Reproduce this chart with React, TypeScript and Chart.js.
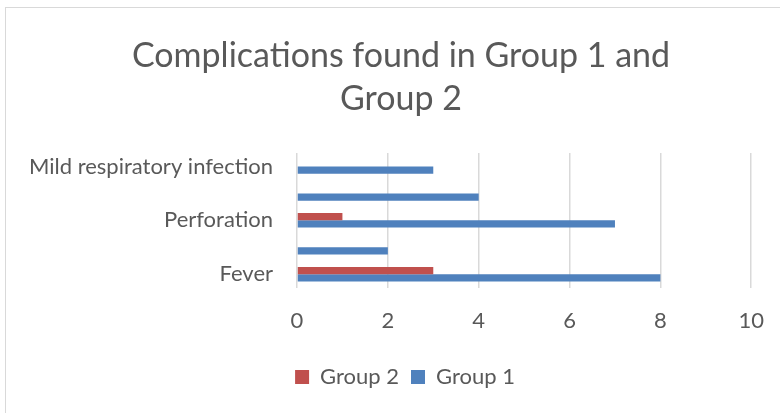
import React, { useEffect, useRef } from "react";
import { Chart, registerables } from "chart.js";

Chart.register(...registerables);

const categories = ["Fever", "", "Perforation", "", "Mild respiratory infection"];
const group1 = [8, 2, 7, 4, 3];
const group2 = [3, 0, 1, 0, 0];
const xTicks = [0, 2, 4, 6, 8, 10];

const FONT = "Lato, 'Open Sans', sans-serif";
const TEXT = "#595959";

// Excel centres title and legend on the whole chart frame, which is wider than the plot's layout box.
const shiftBlocks = {
  id: "shiftBlocks",
  afterLayout(chart: any) {
    const t = chart.titleBlock;
    if (t) {
      t.left += 12;
      t.right += 12;
    }
    const l = chart.legend;
    if (l) {
      l.left += 16;
      l.right += 16;
    }
  },
};

export default function App() {
  const ref = useRef<HTMLCanvasElement>(null);
  useEffect(() => {
    if (!ref.current) return;
    const chart = new Chart(ref.current, {
      type: "bar",
      data: {
        labels: categories,
        datasets: [
          { label: "Group 2", data: group2, backgroundColor: "#C0504D", borderWidth: 0 },
          { label: "Group 1", data: group1, backgroundColor: "#4F81BD", borderWidth: 0 },
        ],
      },
      options: {
        indexAxis: "y",
        responsive: false,
        animation: false,
        devicePixelRatio: 1,
        layout: { padding: { left: 22, right: 28, top: 34, bottom: 15 } },
        datasets: { bar: { categoryPercentage: 0.54, barPercentage: 1 } },
        plugins: {
          title: {
            display: true,
            text: ["Complications found in Group 1 and", "Group 2"],
            color: TEXT,
            font: { family: FONT, size: 34, weight: "normal", lineHeight: 1.28 },
            padding: { top: 0, bottom: 32 },
          },
          legend: {
            position: "bottom",
            labels: {
              color: TEXT,
              font: { family: FONT, size: 22 },
              boxWidth: 14,
              boxHeight: 14,
              padding: 12,
            },
          },
          tooltip: { enabled: false },
        },
        scales: {
          x: {
            min: 0,
            max: 10,
            afterBuildTicks: (scale: any) => {
              scale.ticks = xTicks.map((v) => ({ value: v }));
            },
            grid: { color: "#d9d9d9", lineWidth: 1.5, drawTicks: false },
            border: { display: false },
            ticks: { color: TEXT, font: { family: FONT, size: 22 }, padding: 20 },
          },
          y: {
            reverse: true,
            grid: { display: false, drawTicks: false },
            border: { display: false },
            ticks: { color: TEXT, font: { family: FONT, size: 22 }, padding: 24, autoSkip: false },
            afterFit: (scale: any) => {
              scale.width = 275;
            },
          },
        },
      },
      plugins: [shiftBlocks],
    });
    return () => chart.destroy();
  }, []);
  return (
    <div style={{ position: "fixed", left: 0, top: 0, width: 780, height: 413, background: "#fff", overflow: "hidden" }}>
      <div style={{ position: "absolute", left: 5, top: 7, width: 800, height: 430, border: "1px solid #d9d9d9" }} />
      <canvas ref={ref} width={784} height={413} style={{ position: "absolute", left: 0, top: 0 }} />
    </div>
  );
}
